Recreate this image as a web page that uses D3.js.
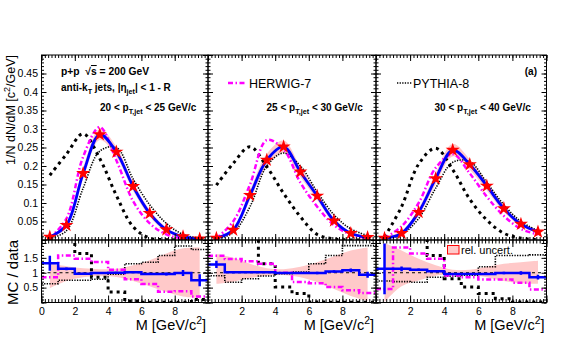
<!DOCTYPE html>
<html>
<head>
<meta charset="utf-8">
<script src="https://cdn.jsdelivr.net/npm/d3@7"></script>
<style>
  body { margin: 0; background: #fff; }
  svg { display: block; font-family: 'Liberation Sans', Arial, Helvetica, sans-serif; }
</style>
</head>
<body>
<div id="chart"></div>
<script>
// bin centres and edges, M [GeV/c^2]
const massBins = [0.5, 1.5, 2.5, 3.5, 4.5, 5.5, 6.5, 7.5, 8.5, 9.5]
const binEdges = [0, 1, 2, 3, 4, 5, 6, 7, 8, 9, 10]
const ptRanges = [['20', '25'], ['25', '30'], ['30', '40']]

// top row: 1/N dN/dM
const dataPt20 = [0.008, 0.04, 0.18, 0.285, 0.238, 0.145, 0.072, 0.028, 0.009, 0.003]
const dataPt25 = [0.005, 0.027, 0.121, 0.216, 0.252, 0.184, 0.119, 0.052, 0.018, 0.007]
const dataPt30 = [0.005, 0.018, 0.075, 0.166, 0.243, 0.204, 0.146, 0.085, 0.043, 0.022]

// half width of the uncertainty band around the data
const sysPt20 = [0.003, 0.008, 0.015, 0.015, 0.014, 0.012, 0.009, 0.006, 0.003, 0.002]
const sysPt25 = [0.002, 0.006, 0.013, 0.017, 0.017, 0.014, 0.011, 0.008, 0.004, 0.003]
const sysPt30 = [0.003, 0.006, 0.01, 0.015, 0.017, 0.014, 0.012, 0.009, 0.006, 0.004]

const herwigPt20 = [0.005, 0.058, 0.225, 0.305, 0.215, 0.105, 0.045, 0.015, 0.004, 0.001]
const herwigPt25 = [0.005, 0.05, 0.15, 0.27, 0.245, 0.155, 0.09, 0.04, 0.015, 0.005]
const herwigPt30 = [0.005, 0.037, 0.1, 0.195, 0.232, 0.18, 0.117, 0.065, 0.03, 0.015]

const pythiaPt20 = [0.004, 0.025, 0.14, 0.24, 0.25, 0.165, 0.095, 0.045, 0.015, 0.005]
const pythiaPt25 = [0.003, 0.02, 0.09, 0.2, 0.235, 0.2, 0.13, 0.068, 0.03, 0.012]
const pythiaPt30 = [0.003, 0.015, 0.058, 0.14, 0.21, 0.212, 0.155, 0.095, 0.05, 0.025]

// thick dotted black curve (no legend entry)
const shiftPt20 = [0.175, 0.232, 0.287, 0.22, 0.12, 0.036, 0.005, 0.001, 0, 0]
const shiftPt25 = [0.148, 0.207, 0.252, 0.198, 0.126, 0.063, 0.015, 0.003, 0, 0]
const shiftPt30 = [0.008, 0.09, 0.205, 0.248, 0.19, 0.11, 0.054, 0.018, 0.005, 0.001]

// bottom row: MC / data
const bandLoPt20 = [0.48, 0.72, 0.85, 0.88, 0.86, 0.72, 0.55, 0.35, 0.2, 0.15]
const bandHiPt20 = [1.32, 1.22, 1.15, 1.12, 1.13, 1.25, 1.42, 1.65, 1.82, 1.85]
const bandLoPt25 = [0.63, 0.7, 0.82, 0.9, 0.92, 0.85, 0.68, 0.45, 0.22, 0.05]
const bandHiPt25 = [1.63, 1.5, 1.3, 1.15, 1.12, 1.2, 1.35, 1.55, 1.75, 1.85]
const bandLoPt30 = [0.02, 0.55, 0.74, 0.9, 0.95, 0.92, 0.85, 0.72, 0.65, 0.63]
const bandHiPt30 = [2.0, 1.75, 1.47, 1.25, 1.1, 1.1, 1.2, 1.3, 1.35, 1.4]

const blueRatioPt20 = [1.32, 1.13, 0.97, 0.99, 1.0, 1.02, 0.96, 0.96, 0.99, 0.75]
const blueErrPt20 = [0.25, 0.05, 0.03, 0.03, 0.03, 0.03, 0.04, 0.05, 0.1, 0.2]
const blueRatioPt25 = [1.28, 1.02, 1.02, 1.02, 0.99, 0.99, 0.99, 1.04, 1.08, 0.93]
const blueErrPt25 = [0.12, 0.04, 0.03, 0.03, 0.03, 0.03, 0.04, 0.04, 0.06, 0.1]
const blueRatioPt30 = [1.13, 1.13, 1.1, 1.05, 0.96, 0.96, 0.96, 0.99, 0.99, 0.85]
const blueErrPt30 = [0.85, 0.08, 0.04, 0.03, 0.03, 0.03, 0.04, 0.04, 0.06, 0.08]

const herwigRatioPt20 = [0.85, 1.58, 1.47, 1.36, 1.1, 0.78, 0.62, 0.36, 0.38, 0.2]
const herwigRatioPt25 = [1.57, 1.46, 1.39, 1.3, 1.0, 0.69, 0.65, 0.52, 0.41, 0.32]
const herwigRatioPt30 = [0.45, 1.85, 1.65, 1.47, 0.91, 0.85, 0.77, 0.77, 0.66, 0.44]

const pythiaRatioPt20 = [0.63, 0.75, 0.75, 0.78, 0.95, 1.3, 1.35, 1.58, 1.9, 1.78]
const pythiaRatioPt25 = [0.9, 0.68, 0.8, 0.89, 0.97, 1.02, 1.3, 1.58, 1.91, 1.91]
const pythiaRatioPt30 = [0.72, 0.7, 0.68, 0.85, 0.88, 0.92, 1.2, 1.58, 1.58, 1.6]

const shiftRatioPt20 = [3, 3, 1.65, 0.85, 0.35, 0.05, 0.01, 0.01, 0.01, 0.1]
const shiftRatioPt25 = [3, 3, 3, 1.3, 0.52, 0.3, 0.02, 0.01, 0.01, 0.01]
const shiftRatioPt30 = [3, 3, 3, 1.58, 0.8, 0.52, 0.3, 0.13, 0.02, 0.02]

const panels = [
  { pt: ptRanges[0], data: dataPt20, sys: sysPt20, herwig: herwigPt20, pythia: pythiaPt20, shift: shiftPt20,
    bandLo: bandLoPt20, bandHi: bandHiPt20, blueR: blueRatioPt20, blueE: blueErrPt20,
    herwigR: herwigRatioPt20, pythiaR: pythiaRatioPt20, shiftR: shiftRatioPt20 },
  { pt: ptRanges[1], data: dataPt25, sys: sysPt25, herwig: herwigPt25, pythia: pythiaPt25, shift: shiftPt25,
    bandLo: bandLoPt25, bandHi: bandHiPt25, blueR: blueRatioPt25, blueE: blueErrPt25,
    herwigR: herwigRatioPt25, pythiaR: pythiaRatioPt25, shiftR: shiftRatioPt25 },
  { pt: ptRanges[2], data: dataPt30, sys: sysPt30, herwig: herwigPt30, pythia: pythiaPt30, shift: shiftPt30,
    bandLo: bandLoPt30, bandHi: bandHiPt30, blueR: blueRatioPt30, blueE: blueErrPt30,
    herwigR: herwigRatioPt30, pythiaR: pythiaRatioPt30, shiftR: shiftRatioPt30 }
]

const width = 581, height = 364
const frameX = [[41.5, 208], [208, 376], [376, 546.5]]
const topTop = 55, topBottom = 240, ratioBottom = 302.5

const blue = '#0000ff', magenta = '#ff00ff', band = '#ffc9c9'
const herwigDash = '5,2.5,1.5,2.5', pythiaDash = '1.3,1.3', shiftDash = '3,4'

const svg = d3.select('#chart').append('svg')
  .attr('width', width)
  .attr('height', height)

const yTop = d3.scaleLinear().domain([0, 0.5]).range([topBottom, topTop])
const yRatio = d3.scaleLinear().domain([0, 2.1]).range([ratioBottom, topBottom])

// text with sub/superscripts
function richText(sel, x, y, parts, size, weight, anchor) {
  const t = sel.append('text')
    .attr('x', x).attr('y', y)
    .attr('font-size', size)
    .attr('font-weight', weight || 'normal')
    .attr('text-anchor', anchor || 'start')
  let shift = 0
  parts.forEach(p => {
    const str = typeof p === 'string' ? p : p[0]
    const kind = typeof p === 'string' ? 'n' : p[1]
    const target = kind === 'sub' ? size * 0.32 : kind === 'sup' ? -size * 0.42 : 0
    const ts = t.append('tspan')
      .attr('dy', target - shift)
      .attr('font-size', kind === 'n' || kind === 'over' ? size : size * 0.72)
      .text(str)
    if (kind === 'over') ts.style('text-decoration', 'overline')
    shift = target
  })
  return t
}

function drawTicks(g, axisFn, scale, at, majors, minors, majLen, minLen, labels, fmt) {
  const gm = g.append('g').attr('transform', at)
  gm.call(axisFn(scale).tickValues(minors).tickSize(-minLen).tickSizeOuter(0).tickFormat(''))
  gm.select('.domain').remove()
  const gM = g.append('g').attr('transform', at)
  gM.call(axisFn(scale).tickValues(majors).tickSize(-majLen).tickSizeOuter(0).tickPadding(labels ? labels.pad : 3)
    .tickFormat(d => labels && labels.show.some(v => Math.abs(v - d) < 1e-9) ? fmt(d) : ''))
  gM.select('.domain').remove()
  g.selectAll('.tick line').attr('stroke', '#000').attr('stroke-width', 1)
  gM.selectAll('.tick text')
    .attr('font-size', 10.5)
    .attr('fill', '#000')
    .attr('font-family', "'Liberation Sans', Arial, Helvetica, sans-serif")
}

const fmt = d3.format('~g')
const xMajors = [0, 2, 4, 6, 8, 10]
const xMinors = d3.range(0, 51).map(d => d / 5)
const yTopMajors = d3.range(0, 11).map(d => d * 5 / 100)
const yTopMinors = d3.range(0, 51).map(d => d / 100)
const yTopLabels = d3.range(1, 10).map(d => d * 5 / 100)
const yRatioMajors = [0, 0.5, 1, 1.5, 2]
const yRatioMinors = d3.range(0, 22).map(d => d / 10)
const yRatioLabels = [0.5, 1, 1.5]

panels.forEach((p, i) => {
  const x = d3.scaleLinear().domain([0, 10]).range(frameX[i])
  const [x0, x1] = frameX[i]
  const g = svg.append('g')

  const clipTop = 'clipTop' + i, clipRatio = 'clipRatio' + i
  svg.append('clipPath').attr('id', clipTop)
    .append('rect').attr('x', x0).attr('y', topTop).attr('width', x1 - x0).attr('height', topBottom - topTop)
  svg.append('clipPath').attr('id', clipRatio)
    .append('rect').attr('x', x0).attr('y', topBottom).attr('width', x1 - x0).attr('height', ratioBottom - topBottom)

  const smooth = d3.line()
    .x((d, j) => x(massBins[j]))
    .y(d => yTop(d))
    .curve(d3.curveCatmullRom.alpha(0.5))

  // ---- top pad
  const gt = g.append('g').attr('clip-path', `url(#${clipTop})`)

  const sysArea = d3.area()
    .x((d, j) => x(massBins[j]))
    .y0((d, j) => yTop(d - p.sys[j]))
    .y1((d, j) => yTop(d + p.sys[j]))
    .curve(d3.curveCatmullRom.alpha(0.5))
  gt.append('path').datum(p.data).attr('d', sysArea).attr('fill', band)

  gt.append('path').datum(p.shift).attr('d', smooth)
    .attr('fill', 'none').attr('stroke', '#000').attr('stroke-width', 3)
    .attr('stroke-dasharray', shiftDash)
  gt.append('path').datum(p.pythia).attr('d', smooth)
    .attr('fill', 'none').attr('stroke', '#000').attr('stroke-width', 1.6)
    .attr('stroke-dasharray', pythiaDash)
  gt.append('path').datum(p.herwig).attr('d', smooth)
    .attr('fill', 'none').attr('stroke', magenta).attr('stroke-width', 2.5)
    .attr('stroke-dasharray', herwigDash)
  gt.append('path').datum(p.data).attr('d', smooth)
    .attr('fill', 'none').attr('stroke', blue).attr('stroke-width', 2.8)

  gt.selectAll('path.star')
    .data(p.data)
    .enter()
    .append('path')
    .attr('class', 'star')
    .attr('d', d3.symbol(d3.symbolStar, 62))
    .attr('transform', (d, j) => `translate(${x(massBins[j])},${yTop(d)})`)
    .attr('fill', '#ff0000')

  // ---- ratio pad
  const gr = g.append('g').attr('clip-path', `url(#${clipRatio})`)

  const ratioBand = d3.area()
    .x((d, j) => x(massBins[j]))
    .y0(d => yRatio(d[0]))
    .y1(d => yRatio(d[1]))
    .curve(d3.curveCatmullRom.alpha(0.5))
  gr.append('path').datum(p.bandLo.map((v, j) => [v, p.bandHi[j]]))
    .attr('d', ratioBand).attr('fill', band)

  gr.append('line')
    .attr('x1', x(0)).attr('x2', x(10))
    .attr('y1', yRatio(1)).attr('y2', yRatio(1))
    .attr('stroke', '#000').attr('stroke-width', 1).attr('stroke-dasharray', '3,3')

  const step = d3.line()
    .x(d => x(d[0]))
    .y(d => yRatio(d[1]))
    .curve(d3.curveStepAfter)
  const hist = vals => binEdges.map((e, j) => [e, vals[Math.min(j, vals.length - 1)]])

  gr.append('path').datum(hist(p.shiftR)).attr('d', step)
    .attr('fill', 'none').attr('stroke', '#000').attr('stroke-width', 3)
    .attr('stroke-dasharray', shiftDash)
  gr.append('path').datum(hist(p.pythiaR)).attr('d', step)
    .attr('fill', 'none').attr('stroke', '#000').attr('stroke-width', 1.6)
    .attr('stroke-dasharray', pythiaDash)
  gr.append('path').datum(hist(p.herwigR)).attr('d', step)
    .attr('fill', 'none').attr('stroke', magenta).attr('stroke-width', 2.5)
    .attr('stroke-dasharray', herwigDash)
  gr.append('path').datum(hist(p.blueR)).attr('d', step)
    .attr('fill', 'none').attr('stroke', blue).attr('stroke-width', 2.5)
  gr.selectAll('line.err')
    .data(p.blueR)
    .enter()
    .append('line')
    .attr('class', 'err')
    .attr('x1', (d, j) => x(massBins[j])).attr('x2', (d, j) => x(massBins[j]))
    .attr('y1', (d, j) => yRatio(d - p.blueE[j]))
    .attr('y2', (d, j) => yRatio(d + p.blueE[j]))
    .attr('stroke', blue).attr('stroke-width', 2.5)

  // ---- frames & ticks
  g.append('rect').attr('x', x0).attr('y', topTop).attr('width', x1 - x0).attr('height', topBottom - topTop)
    .attr('fill', 'none').attr('stroke', '#000').attr('stroke-width', 1)
  g.append('rect').attr('x', x0).attr('y', topBottom).attr('width', x1 - x0).attr('height', ratioBottom - topBottom)
    .attr('fill', 'none').attr('stroke', '#000').attr('stroke-width', 1)

  const gax = g.append('g')
  drawTicks(gax, d3.axisBottom, x, `translate(0,${topBottom})`, xMajors, xMinors, 6, 3)
  drawTicks(gax, d3.axisTop, x, `translate(0,${topTop})`, xMajors, xMinors, 6, 3)
  drawTicks(gax, d3.axisTop, x, `translate(0,${topBottom})`, xMajors, xMinors, 7, 3.5)
  drawTicks(gax, d3.axisBottom, x, `translate(0,${ratioBottom})`, xMajors, xMinors, 7, 3.5,
    { show: i === 0 ? [0, 2, 4, 6, 8] : [2, 4, 6, 8], pad: 5 }, fmt)
  drawTicks(gax, d3.axisLeft, yTop, `translate(${x0},0)`, yTopMajors, yTopMinors, 5, 2.5,
    i === 0 ? { show: yTopLabels, pad: 3.5 } : null, fmt)
  drawTicks(gax, d3.axisRight, yTop, `translate(${x1},0)`, yTopMajors, yTopMinors, 5, 2.5)
  drawTicks(gax, d3.axisLeft, yRatio, `translate(${x0},0)`, yRatioMajors, yRatioMinors, 5, 2.5,
    i === 0 ? { show: yRatioLabels, pad: 3.5 } : null, fmt)
  drawTicks(gax, d3.axisRight, yRatio, `translate(${x1},0)`, yRatioMajors, yRatioMinors, 5, 2.5)

  // pt label
  richText(g, x0 + 58.5, 111, [p.pt[0] + ' < p', ['T,jet', 'sub'], ' < ' + p.pt[1] + ' GeV/c'], 10, 'bold')

  // x axis title
  richText(g, x1 - 2, 330, ['M [GeV/c', ['2', 'sup'], ']'], 14.5, 'normal', 'end')
})

// texts in first panel
richText(svg, 61, 75, ['p+p  \u221A', ['s', 'over'], ' = 200 GeV'], 10.3, 'bold')
  .attr('xml:space', 'preserve').style('white-space', 'pre')
richText(svg, 61, 91, ['anti-k', ['T', 'sub'], ' jets, |\u03B7', ['jet', 'sub'], '| < 1 - R'], 10, 'bold')

// (a)
svg.append('text').attr('x', 537).attr('y', 75).attr('text-anchor', 'end')
  .attr('font-size', 10).attr('font-weight', 'bold').text('(a)')

// legends
svg.append('line').attr('x1', 228).attr('x2', 246).attr('y1', 83).attr('y2', 83)
  .attr('stroke', magenta).attr('stroke-width', 2.5).attr('stroke-dasharray', herwigDash)
svg.append('text').attr('x', 249).attr('y', 87.5).attr('font-size', 12.5).text('HERWIG-7')

svg.append('line').attr('x1', 397).attr('x2', 412).attr('y1', 83).attr('y2', 83)
  .attr('stroke', '#000').attr('stroke-width', 1.6).attr('stroke-dasharray', pythiaDash)
svg.append('text').attr('x', 413).attr('y', 87.5).attr('font-size', 12.5).text('PYTHIA-8')

svg.append('rect').attr('x', 447.5).attr('y', 245.5).attr('width', 11.5).attr('height', 8.5)
  .attr('fill', band).attr('stroke', '#ff0000').attr('stroke-width', 1)
svg.append('text').attr('x', 461).attr('y', 253.5).attr('font-size', 11).text('rel. uncert.')

// y titles
richText(svg.append('g').attr('transform', 'translate(15,55) rotate(-90)'), 0, 0,
  ['1/N dN/dM [c', ['2', 'sup'], '/GeV]'], 12.5, 'normal', 'end')
svg.append('text').attr('transform', 'translate(17.5,240) rotate(-90)')
  .attr('text-anchor', 'end').attr('font-size', 15).text('MC / data')
</script>
</body>
</html>
